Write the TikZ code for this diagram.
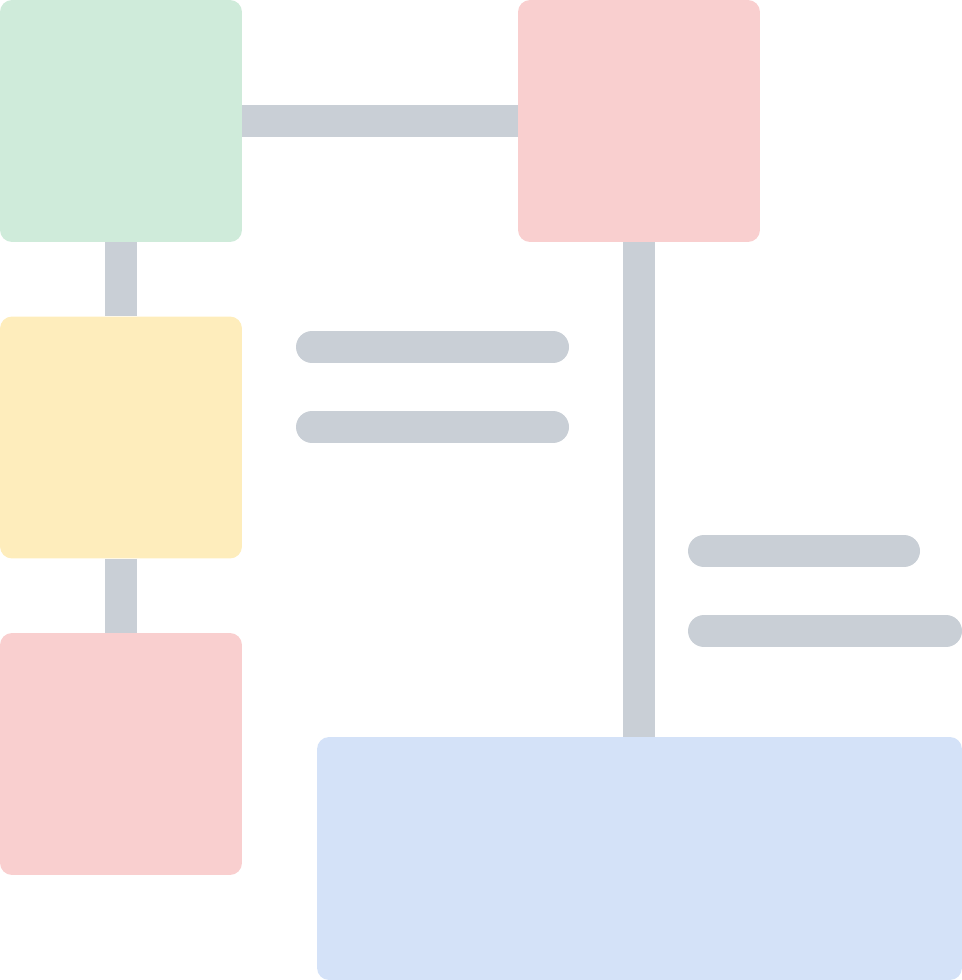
\documentclass[tikz,border=0pt]{standalone}
\definecolor{boxgreen}{HTML}{CFEBDA}
\definecolor{boxred}{HTML}{F9CFCF}
\definecolor{boxyellow}{HTML}{FEEDBC}
\definecolor{boxblue}{HTML}{D4E2F8}
\definecolor{bargray}{HTML}{C9CFD6}
\tikzset{
  card/.style={rounded corners=0.24cm, inner sep=0pt, minimum size=4.84cm},
  bar/.style={draw=bargray, line width=0.64cm, line cap=butt},
  textline/.style={draw=bargray, line width=0.64cm, line cap=round}
}
\begin{document}
\begin{tikzpicture}[x=0.02cm, y=-0.02cm, line join=round]
            \useasboundingbox (0,0) rectangle (962,980);
            % boxes
            \node[card, fill=boxgreen] (green) at (121,121) {};
            \node[card, fill=boxred] (redtop) at (639,121) {};
            \node[card, fill=boxyellow] (yellow) at (121,437.5) {};
            \node[card, fill=boxred] (redbot) at (121,754) {};
            \node[card, fill=boxblue, minimum width=12.9cm, minimum height=4.86cm] (blue) at (639.5,858.5) {};
            % connectors
            \draw[bar] (green.east) -- (redtop.west);
            \draw[bar] (green.south) -- (yellow.north);
            \draw[bar] (yellow.south) -- (redbot.north);
            \draw[bar] (redtop.south) -- (redtop.south |- blue.north);
            % text lines
            \draw[textline] (312,347) -- (553,347);
            \draw[textline] (312,427) -- (553,427);
            \draw[textline] (704,551) -- (904,551);
            \draw[textline] (704,631) -- (946,631);
    \end{tikzpicture}
\end{document}
